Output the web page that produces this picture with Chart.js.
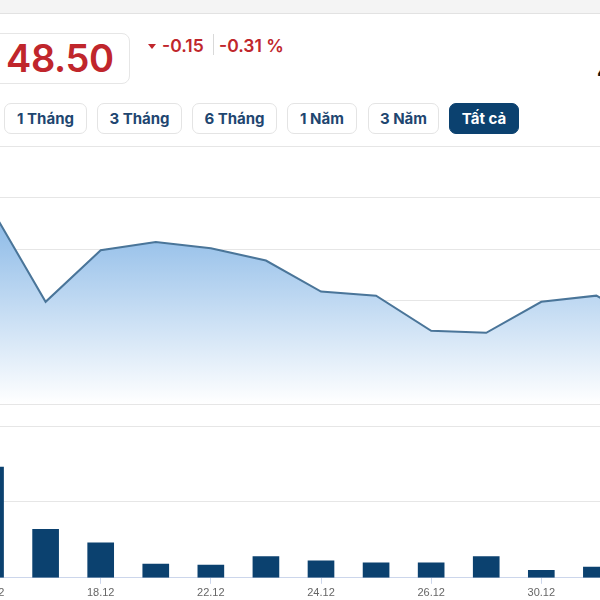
<!DOCTYPE html>
<html>
<head>
<meta charset="utf-8">
<script src="https://cdn.jsdelivr.net/npm/chart.js@4"></script>
<style>
  html, body { margin:0; padding:0; width:600px; height:600px; overflow:hidden; background:#fff; }
  body { position:relative; font-family: Inter, "Noto Sans", sans-serif; }
  #topbar { position:absolute; left:0; top:0; width:600px; height:13px; background:#f4f4f4; border-bottom:1px solid #e2e2e2; }
  #pricebox { position:absolute; left:-20px; top:33px; width:150px; height:51px; border:1px solid #e6e6e6; border-radius:8px; box-sizing:border-box; }
  #price { position:absolute; left:6px; top:38px; font-size:38px; line-height:40px; font-weight:600; color:#c0262c; letter-spacing:-0.4px; }
  #tri { position:absolute; left:148px; top:44px; width:0; height:0; border-left:4.5px solid transparent; border-right:4.5px solid transparent; border-top:5px solid #c0262c; }
  .chg { position:absolute; top:37px; font-size:17.5px; line-height:18px; font-weight:600; color:#c0262c; }
  #sep { position:absolute; left:213px; top:34px; width:1px; height:21px; background:#d9d9d9; }
  .btn { position:absolute; top:103px; height:31px; box-sizing:border-box; border:1px solid #e4e4e4; border-radius:7px;
         font-size:15px; font-weight:700; color:#1e4670; display:flex; align-items:center; justify-content:center; }
  .btn.active { background:#0b416f; border-color:#0b416f; color:#fff; }
  #four { position:absolute; left:597px; top:60px; font-size:22px; font-weight:700; color:#111; line-height:22px; }
  #pc { position:absolute; left:-37px; top:145px; width:716px; height:260px; }
  #vc { position:absolute; left:-37px; top:424px; width:716px; height:179px; }
</style>
</head>
<body>
<div id="topbar"></div>
<div id="pricebox"></div>
<div id="price">48.50</div>
<div id="tri"></div>
<div class="chg" style="left:162px">-0.15</div>
<div id="sep"></div>
<div class="chg" style="left:219px">-0.31 %</div>
<div class="btn" style="left:4px;width:83px">1 Tháng</div>
<div class="btn" style="left:97px;width:85px">3 Tháng</div>
<div class="btn" style="left:192px;width:85px">6 Tháng</div>
<div class="btn" style="left:287px;width:70px">1 Năm</div>
<div class="btn" style="left:368px;width:71px">3 Năm</div>
<div class="btn active" style="left:449px;width:70px">Tất cả</div>
<div id="four">4</div>
<div id="pc"><canvas id="priceChart" width="716" height="260"></canvas></div>
<div id="vc"><canvas id="volChart" width="716" height="179"></canvas></div>
<script>
// ---- data ----
const dates   = ['16.12','17.12','18.12','19.12','22.12','23.12','24.12','25.12','26.12','29.12','30.12','31.12','02.01'];
const prices  = [49.08, 48.62, 48.87, 48.91, 48.88, 48.82, 48.67, 48.65, 48.48, 48.47, 48.62, 48.65, 48.50];
const volumes = [1460000, 640000, 460000, 180000, 167000, 280000, 224000, 197000, 197000, 280000, 100000, 140000, 200000];
const priceMin = 48.125, priceMax = 49.375, priceStep = 0.25;
const volMax = 2000000, volStep = 1000000;

const gridColor = '#e6e6e6';

new Chart(document.getElementById('priceChart'), {
  type: 'line',
  data: {
    labels: dates,
    datasets: [{
      data: prices,
      borderColor: '#4a7599',
      borderWidth: 2,
      pointRadius: 0,
      tension: 0,
      fill: 'start',
      backgroundColor: (ctx) => {
        const { ctx: c, chartArea } = ctx.chart;
        if (!chartArea) return 'rgba(124,181,236,0.5)';
        const g = c.createLinearGradient(0, chartArea.top, 0, chartArea.bottom);
        g.addColorStop(0, '#5f9fde');
        g.addColorStop(1, '#ffffff');
        return g;
      }
    }]
  },
  options: {
    responsive: false,
    animation: false,
    devicePixelRatio: 1,
    layout: { padding: { top: 1, bottom: 1, left: 0, right: 0 } },
    plugins: { legend: { display: false }, tooltip: { enabled: false } },
    scales: {
      x: { display: false, offset: true },
      y: {
        display: true,
        min: priceMin, max: priceMax,
        ticks: { display: false, stepSize: priceStep },
        grid: { color: gridColor, drawTicks: false, lineWidth: 1 },
        border: { display: false }
      }
    }
  }
});

new Chart(document.getElementById('volChart'), {
  type: 'bar',
  data: {
    labels: dates,
    datasets: [{
      data: volumes,
      backgroundColor: '#0b416f',
      barThickness: 26
    }]
  },
  options: {
    responsive: false,
    animation: false,
    devicePixelRatio: 1,
    layout: { padding: { top: 2, bottom: 0, left: 0, right: 0 } },
    plugins: { legend: { display: false }, tooltip: { enabled: false } },
    scales: {
      x: {
        offset: true,
        grid: {
          offset: false,
          drawOnChartArea: false,
          tickLength: 6,
          color: (c) => (c.index % 2 === 0 ? '#ccd6eb' : 'rgba(0,0,0,0)')
        },
        border: { display: true, color: '#ccd6eb' },
        ticks: {
          autoSkip: false, maxRotation: 0, padding: 3,
          color: '#666666',
          font: { family: '"Liberation Sans", Arial, sans-serif', size: 11 },
          callback: (v, i) => (i % 2 === 0 ? dates[i] : '')
        }
      },
      y: {
        display: true,
        min: 0, max: volMax,
        ticks: { display: false, stepSize: volStep },
        grid: { color: gridColor, drawTicks: false },
        border: { display: false }
      }
    }
  }
});
</script>
</body>
</html>
